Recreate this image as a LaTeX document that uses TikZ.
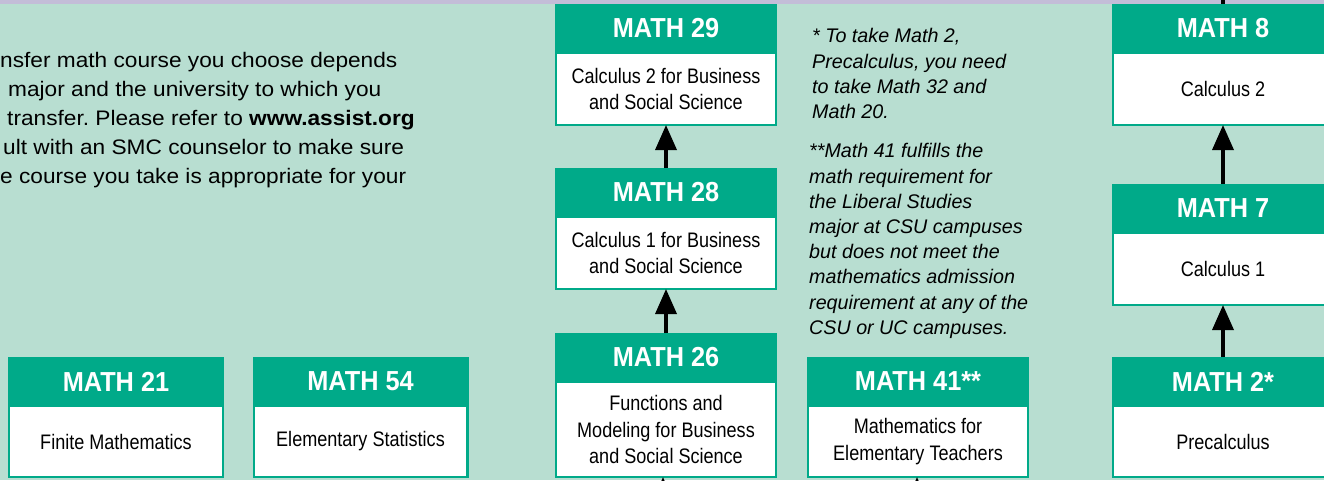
\documentclass[tikz,border=0pt]{standalone}
\usepackage{fontspec}
\setmainfont{Liberation Sans}
\newfontfamily\headfont[FakeStretch=0.92]{Liberation Sans}
\newfontfamily\bodyfont[FakeStretch=0.86]{Liberation Sans}
\newfontfamily\parafont[FakeStretch=1.08]{Liberation Sans}
\usetikzlibrary{positioning,arrows.meta}
\definecolor{bgteal}{RGB}{184,222,209}
\definecolor{smcgreen}{RGB}{0,170,137}
\definecolor{stripe}{RGB}{195,189,216}
\frenchspacing
\begin{document}
\begin{tikzpicture}[x=1pt,y=-1pt,
        head/.style={fill=smcgreen, text=white, anchor=north, minimum width=222pt, minimum height=49pt,
          inner sep=0pt, outer sep=0pt, font=\headfont\bfseries\fontsize{27.5}{28}\selectfont},
        body/.style={draw=smcgreen, line width=2.4pt, fill=white, minimum width=219.6pt, inner sep=0pt,
          outer sep=0pt, align=center, font=\bodyfont\fontsize{21}{26.5}\selectfont},
        note/.style={anchor=north west, inner sep=0pt, align=left, font=\itshape\fontsize{19.7}{25.2}\selectfont},
        arr/.style={line width=3.5pt, -{Triangle[width=21pt,length=25pt]}}]
        \path[use as bounding box, clip] (0,0) rectangle (1324,480);
        \fill[bgteal] (0,0) rectangle (1324,480);
        \fill[stripe] (0,0) rectangle (1324,4);
        % intro text
        \node[anchor=north west, inner sep=0pt, align=left, font=\parafont\fontsize{21}{29}\selectfont] (intro) at (0,51.7)
          {nsfer math course you choose depends\\
           \hspace*{8pt}major and the university to which you\\
           \hspace*{7pt}transfer. Please refer to \textbf{www.assist.org}\\
           \hspace*{3pt}ult with an SMC counselor to make sure\\
           e course you take is appropriate for your};
        % business column
        \node[head] (h29) at (666,4) {MATH 29};
        \node[body, minimum height=72pt, below=0pt of h29] (b29) {Calculus 2 for Business\\and Social Science};
        \node[head] (h28) at (666,168) {MATH 28};
        \node[body, minimum height=72pt, below=0pt of h28] (b28) {Calculus 1 for Business\\and Social Science};
        \node[head] (h26) at (666,333) {MATH 26};
        \node[body, minimum height=95pt, below=0pt of h26] (b26) {Functions and\\Modeling for Business\\and Social Science};
        % other courses
        \node[head, minimum width=216pt] (h21) at (116,357) {MATH 21};
        \node[body, minimum width=213.6pt, minimum height=71pt, below=0pt of h21] (b21) {Finite Mathematics};
        \node[head, minimum width=216pt] (h54) at (360.5,357) {MATH 54};
        \node[body, minimum width=213.6pt, minimum height=71pt, below=0pt of h54] (b54) {Elementary Statistics};
        \node[head] (h41) at (918,357) {MATH 41**};
        \node[body, minimum height=71pt, below=0pt of h41] (b41) {Mathematics for\\Elementary Teachers};
        % calculus column
        \node[head] (h8) at (1223,4) {MATH 8};
        \node[body, minimum height=72pt, below=0pt of h8] (b8) {Calculus 2};
        \node[head] (h7) at (1223,184) {MATH 7};
        \node[body, minimum height=72pt, below=0pt of h7] (b7) {Calculus 1};
        \node[head] (h2) at (1223,357) {MATH 2*};
        \node[body, minimum height=71pt, below=0pt of h2] (b2) {Precalculus};
        % notes
        \node[note] (n1) at (812,28.4) {* To take Math 2,\\Precalculus, you need\\to take Math 32 and\\Math 20.};
        \node[note] (n2) at (809,143.4) {**Math 41 fulfills the\\math requirement for\\the Liberal Studies\\major at CSU campuses\\but does not meet the\\mathematics admission\\requirement at any of the\\CSU or UC campuses.};
        % arrows
        \coordinate (t8) at (1223,-10);
        \coordinate (u26) at (663,560);
        \coordinate (u41) at (917,560);
        \draw[arr] (h28.north) -- (b29.south);
        \draw[arr] (h26.north) -- (b28.south);
        \draw[arr] (h7.north) -- (b8.south);
        \draw[arr] (h2.north) -- (b7.south);
        \draw[line width=3.5pt] (h8.north) -- (t8);
        \draw[arr] (u26) -- (b26.south -| u26);
        \draw[arr] (u41) -- (b41.south -| u41);
        \end{tikzpicture}
\end{document}
